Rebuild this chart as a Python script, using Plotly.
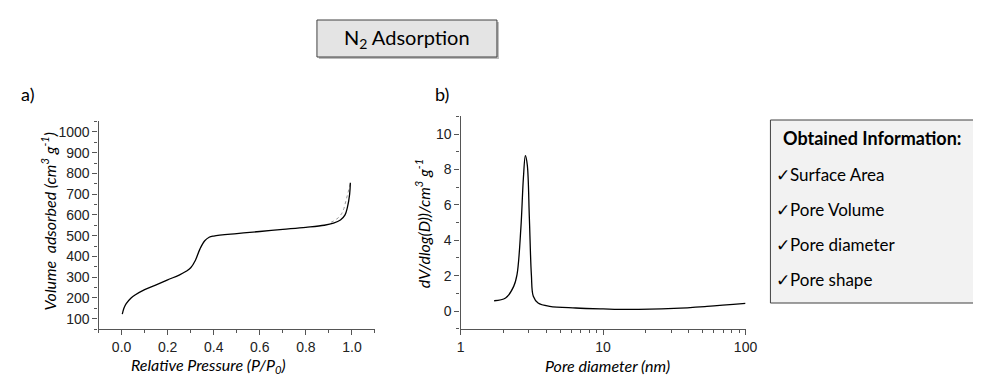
import plotly.graph_objects as go

W, H = 981, 375

# ---- data: panel a (N2 isotherm) ----
p_ads = [0.003, 0.01, 0.02, 0.04, 0.06, 0.10, 0.15, 0.20, 0.25, 0.28, 0.30, 0.32,
         0.34, 0.36, 0.38, 0.40, 0.50, 0.60, 0.70, 0.80, 0.88, 0.92, 0.95, 0.97,
         0.98, 0.99, 0.993]
v_ads = [122, 150, 172, 198, 215, 240, 263, 287, 310, 328, 345, 380,
         435, 474, 492, 498, 510, 520, 530, 540, 550, 560, 575, 600,
         635, 700, 755]
p_des = [0.993, 0.985, 0.975, 0.965, 0.955, 0.94, 0.92, 0.90]
v_des = [750, 715, 668, 630, 605, 585, 570, 560]

# ---- data: panel b (pore size distribution) ----
d_pore = [1.72, 2.07, 2.36, 2.49, 2.65, 2.76, 2.85, 2.94, 3.04, 3.14, 3.24, 3.5,
          4.22, 6.44, 10, 15, 31.5, 53.6, 100]
dv_pore = [0.58, 0.73, 1.39, 2.05, 4.68, 7.5, 8.78, 8.25, 5.25, 2.05, 0.83, 0.45,
           0.26, 0.17, 0.12, 0.09, 0.15, 0.26, 0.43]

info_title = "Obtained Information:"
info_items = ["Surface Area", "Pore Volume", "Pore diameter", "Pore shape"]


def px(x):
    return x / W


def py(y):
    return 1 - y / H


fig = go.Figure()
fig.add_trace(go.Scatter(x=p_des, y=v_des, mode="lines",
                         line=dict(color="#999999", width=1, dash="dot"),
                         xaxis="x", yaxis="y", showlegend=False))
fig.add_trace(go.Scatter(x=p_ads, y=v_ads, mode="lines", line_shape="spline",
                         line=dict(color="black", width=1.3),
                         xaxis="x", yaxis="y", showlegend=False))
fig.add_trace(go.Scatter(x=d_pore, y=dv_pore, mode="lines", line_shape="spline",
                         line=dict(color="black", width=1.3),
                         xaxis="x2", yaxis="y2", showlegend=False))

tickfont = dict(family="Liberation Sans, Arial", size=14, color="#222222")
axcommon = dict(showline=True, linecolor="#555555", linewidth=1.2, ticks="outside",
                ticklen=5, tickcolor="#555555", showgrid=False, zeroline=False,
                tickfont=tickfont, mirror=False)

fig.update_layout(
    width=W, height=H, margin=dict(l=0, r=0, t=0, b=0),
    paper_bgcolor="white", plot_bgcolor="white",
    xaxis=dict(domain=[px(88), px(369)], range=[-0.1, 1.1], anchor="y",
               tickvals=[0, 0.2, 0.4, 0.6, 0.8, 1.0],
               ticktext=["0.0", "0.2", "0.4", "0.6", "0.8", "1.0"],
               minor=dict(ticks="outside", ticklen=3, dtick=0.1, tick0=0,
                          tickcolor="#555555"),
               **axcommon),
    yaxis=dict(domain=[py(321), py(113.3)], range=[50, 1051], anchor="x",
               tickvals=list(range(100, 1001, 100)),
               minor=dict(ticks="outside", ticklen=3, dtick=50, tick0=0,
                          tickcolor="#555555"),
               **axcommon),
    xaxis2=dict(domain=[px(456), px(745.7)], type="log", range=[0, 2], anchor="y2",
                tickvals=[1, 10, 100], ticktext=["1", "10", "100"],
                minor=dict(ticks="outside", ticklen=3, tickcolor="#555555",
                           tickvals=[2, 3, 4, 5, 6, 7, 8, 9, 20, 30, 40, 50, 60, 70, 80, 90]),
                **axcommon),
    yaxis2=dict(domain=[py(320.7), py(108.3)], range=[-1, 11], anchor="x2",
                tickvals=[0, 2, 4, 6, 8, 10],
                minor=dict(ticks="outside", ticklen=3, dtick=1, tick0=0,
                           tickcolor="#555555"),
                **axcommon),
)

shapes = [
    # N2 Adsorption header box (shadow + box)
    dict(type="rect", xref="paper", yref="paper", x0=px(312), x1=px(495),
         y0=py(51), y1=py(14), fillcolor="#bbbbbb", line=dict(width=0), layer="below"),
    dict(type="rect", xref="paper", yref="paper", x0=px(310), x1=px(493),
         y0=py(49), y1=py(12), fillcolor="#e4e4e4", line=dict(color="#404040", width=1)),
    # info box
    dict(type="rect", xref="paper", yref="paper", x0=px(771), x1=px(995),
         y0=py(295), y1=py(112), fillcolor="#f2f2f2", line=dict(color="#404040", width=1)),
]
fig.update_layout(shapes=shapes)

FAM = "Lato, Carlito, Calibri"
txtfont = dict(family=FAM, size=17, color="black")
titlefont = dict(family=FAM, size=16, color="black")
ann = [
    dict(x=px(401.5), y=py(30.5), text="N<sub>2</sub> Adsorption",
         font=dict(family=FAM, size=20, color="black")),
    dict(x=px(16), y=py(86), text="a)", font=dict(family=FAM, size=18, color="black")),
    dict(x=px(437), y=py(86), text="b)", font=dict(family=FAM, size=18, color="black")),
    dict(x=px(200), y=py(357),
         text="<i>Relative Pressure (P/P<sub>0</sub>)</i>", font=titlefont),
    dict(x=px(38), y=py(213), textangle=-90,
         text="<i>Volume  adsorbed (cm<sup>3</sup> g<sup>-1</sup>)</i>", font=titlefont),
    dict(x=px(605), y=py(357), text="<i>Pore diameter (nm)</i>", font=titlefont),
    dict(x=px(418), y=py(216), textangle=-90,
         text="<i>dV/dlog(D))/cm<sup>3</sup> g<sup>-1</sup></i>", font=titlefont),
    dict(x=px(782), y=py(130), xanchor="left", text="<b>" + info_title + "</b>",
         font=dict(family=FAM, size=18, color="black")),
]
for i, item in enumerate(info_items):
    ann.append(dict(x=px(775), y=py(166 + 35 * i), xanchor="left",
                    text="\u2713" + item, font=txtfont))
for a in ann:
    a.setdefault("xref", "paper")
    a.setdefault("yref", "paper")
    a.setdefault("showarrow", False)
    a.setdefault("xanchor", "center")
    a.setdefault("yanchor", "middle")
fig.update_layout(annotations=ann)

fig.write_html("out.html")
